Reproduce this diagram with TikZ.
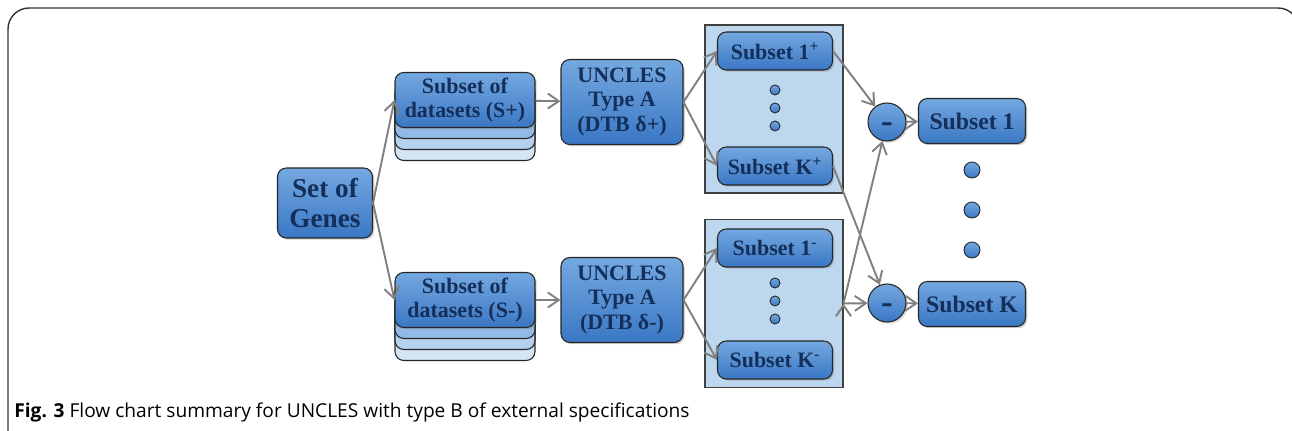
\documentclass[tikz,border=0pt]{standalone}
\usepackage{fontspec}
\setmainfont{Liberation Serif}
\newfontfamily\capfont{Open Sans}
\usepackage{tikz}
\usetikzlibrary{arrows.meta, positioning, shadows, backgrounds}
\definecolor{navy}{HTML}{142F5A}
\definecolor{btop}{HTML}{74A8E0}
\definecolor{bbot}{HTML}{3A77C4}
\definecolor{panel}{HTML}{BDD7EE}
\tikzset{>={Straight Barb[length=2.2mm,width=3mm]}}
\tikzset{
  blk/.style = {draw=black!85, line width=0.6pt, rounded corners=5pt,
    top color=btop, bottom color=bbot, text=navy, align=center,
    font=\bfseries\fontsize{12.5}{14}\selectfont, inner sep=1pt,
    drop shadow={shadow xshift=1pt, shadow yshift=-1pt, opacity=.35}},
  small/.style = {minimum width=2.3cm, minimum height=0.76cm,
    font=\bfseries\fontsize{12.5}{14}\selectfont},
  layer/.style = {draw=black!85, line width=0.6pt, rounded corners=5pt,
    minimum width=2.8cm, minimum height=1.1cm},
  panelbox/.style = {draw=black!75, line width=0.6pt, fill=panel,
    minimum width=2.76cm, minimum height=3.36cm},
  dot/.style = {circle, draw=black!85, line width=0.5pt, inner sep=0pt,
    top color=btop, bottom color=bbot},
  diff/.style = {circle, minimum size=0.76cm, inner sep=0pt,
    font=\bfseries\fontsize{20}{20}\selectfont},
  flow/.style = {->, draw=black!50, line width=1.1pt}
}

\begin{document}
\begin{tikzpicture}[x=0.02cm, y=-0.02cm]
  \useasboundingbox (0,0) rectangle (1292,431);
  % outer frame
  \draw[black!80, line width=0.8pt, rounded corners=12pt]
    (8,431) -- (8,8) -- (1299,8) -- (1299,431);

  \node (genes) [blk, minimum width=1.9cm, minimum height=1.4cm,
    font=\bfseries\fontsize{15.5}{17.5}\selectfont] at (325,203) {Set of\\Genes};

  % stacked datasets
  \foreach \i/\c in {3/D5E5F5, 2/B5D1EE, 1/92BAE4} {
    \definecolor{lay}{HTML}{\c}
    \node [layer, fill=lay] at (465,100+11*\i) {};
    \node [layer, fill=lay] at (465,300+11*\i) {};
  }
  \node (sp) [blk, minimum width=2.8cm, minimum height=1.1cm] at (465,100) {Subset of\\datasets (S+)};
  \node (sm) [blk, minimum width=2.8cm, minimum height=1.1cm] at (465,300) {Subset of\\datasets (S-)};

  \node (ua) [blk, minimum width=2.44cm, minimum height=1.7cm] at (622,102) {UNCLES\\Type A\\(DTB δ+)};
  \node (ub) [blk, minimum width=2.44cm, minimum height=1.7cm] at (622,300) {UNCLES\\Type A\\(DTB δ-)};

  % result panels
  \node (boxp) [panelbox] at (774,109) {};
  \node (boxm) [panelbox] at (774,303.5) {};
  \node (p1) [blk, small] at (775,51) {Subset 1\textsuperscript{+}};
  \node (pk) [blk, small] at (775,166) {Subset K\textsuperscript{+}};
  \node (m1) [blk, small] at (775,248) {Subset 1\textsuperscript{-}};
  \node (mk) [blk, small] at (775,360) {Subset K\textsuperscript{-}};
  \foreach \y in {90,108,126} \node [dot, minimum size=0.2cm] at (775,\y) {};
  \foreach \y in {283,301,319} \node [dot, minimum size=0.2cm] at (775,\y) {};

  % differences
  \node (d1) [blk, diff] at (887,122) {\smash{\raisebox{-0.3em}{-}}};
  \node (d2) [blk, diff] at (887,303) {\smash{\raisebox{-0.3em}{-}}};
  \node (r1) [blk, minimum width=2.14cm, minimum height=0.9cm, font=\bfseries\fontsize{13.5}{15}\selectfont] at (972,121) {Subset 1};
  \node (rk) [blk, minimum width=2.14cm, minimum height=0.9cm, font=\bfseries\fontsize{13.5}{15}\selectfont] at (972,304) {Subset K};
  \foreach \y in {170,210,250} \node [dot, minimum size=0.32cm] at (972,\y) {};

  \coordinate (jm) at (boxm.east);

  \path[flow]
    (genes.east) edge (sp.west)
    (genes.east) edge (sm.west)
    (sp) edge (ua)
    (sm) edge (ub)
    (ua.east) edge (p1.west)
    (ua.east) edge (pk.west)
    (ub.east) edge (m1.west)
    (ub.east) edge (mk.west)
    (p1.east) edge (d1)
    (pk.east) edge (d2)
    (jm) edge (d1)
    (jm) edge (d2)
    (d1) edge (r1)
    (d2) edge (rk);

  \node (cap) [anchor=base west, inner sep=0pt, font=\capfont\fontsize{10.9}{12}\selectfont]
    at (14,418) {\textbf{Fig. 3} Flow chart summary for UNCLES with type B of external specifications};
\end{tikzpicture}
\end{document}
